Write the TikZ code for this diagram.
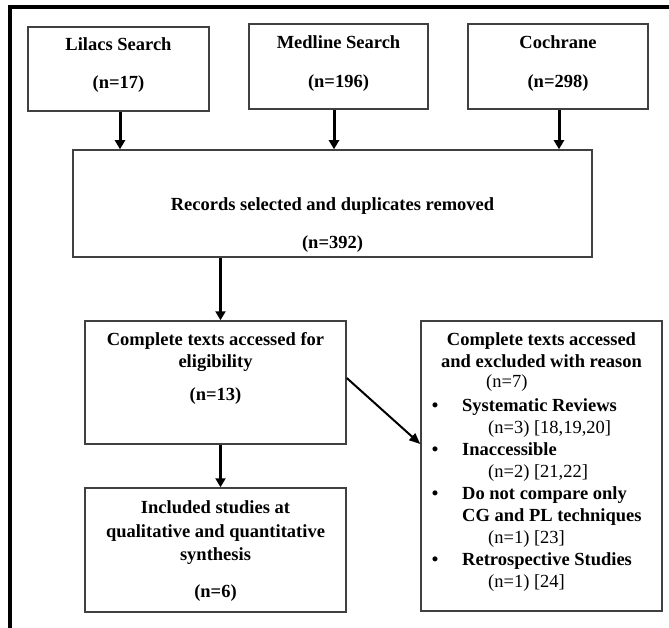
\documentclass[tikz,border=0pt]{standalone}
\usepackage{fontspec}
\setmainfont{Liberation Serif}
\usetikzlibrary{arrows.meta}
\begin{document}
\begin{tikzpicture}[x=1pt,y=-1pt,
  box/.style={draw=black!75, line width=1.5pt, inner sep=0pt, rectangle},
  bt/.style={font=\fontsize{18.5}{22}\selectfont\bfseries, inner sep=0pt, anchor=base},
  bl/.style={font=\fontsize{18.5}{22}\selectfont\bfseries, inner sep=0pt, anchor=base west},
  rl/.style={font=\fontsize{18.5}{22}\selectfont, inner sep=0pt, anchor=base west},
  bul/.style={font=\fontsize{18.5}{22}\selectfont\bfseries, inner sep=0pt, anchor=base},
  arr/.style={draw=black, line width=3pt, -{Triangle[width=10pt,length=9pt]}},
  darr/.style={draw=black, line width=2pt, -{Triangle[width=9pt,length=11pt]}},
]
\useasboundingbox (0,0) rectangle (669,628);
% frame (top and left edges)
\draw[line width=3.2pt] (10,628) -- (10,7) -- (669,7);

% boxes
\node[box, minimum width=181pt, minimum height=84pt] (lil) at (118.5,69) {};
\node[box, minimum width=179pt, minimum height=85pt] (med) at (338.5,66.5) {};
\node[box, minimum width=180pt, minimum height=85pt] (coc) at (558,66.5) {};
\node[box, minimum width=519pt, minimum height=107pt] (rec) at (332.5,203.5) {};
\node[box, minimum width=261pt, minimum height=123pt] (com) at (215.5,382.5) {};
\node[box, minimum width=241pt, minimum height=290pt] (exc) at (541.5,466) {};
\node[box, minimum width=261pt, minimum height=124pt] (inc) at (215.5,550) {};

% texts of the top boxes
\node[bt] (lilA) at (118.5,50.5) {Lilacs Search};
\node[bt] (lilB) at (118.5,88.5) {(n=17)};
\node[bt] (medA) at (338.5,48.5) {Medline Search};
\node[bt] (medB) at (338.5,87.5) {(n=196)};
\node[bt] (cocA) at (558,48.5) {Cochrane};
\node[bt] (cocB) at (558,87.5) {(n=298)};

% records
\node[bt] (recA) at (332.5,210.5) {Records selected and duplicates removed};
\node[bt] (recB) at (332.5,248.5) {(n=392)};

% complete texts
\node[bt] (comA) at (215.5,345.5) {Complete texts accessed for};
\node[bt] (comB) at (215.5,367.5) {eligibility};
\node[bt] (comC) at (215.5,400.5) {(n=13)};

% included
\node[bt] (incA) at (215.5,513.5) {Included studies at};
\node[bt] (incB) at (215.5,537.5) {qualitative and quantitative};
\node[bt] (incC) at (215.5,560.5) {synthesis};
\node[bt] (incD) at (215.5,597.5) {(n=6)};

% excluded
\node[bt] (excA) at (541.5,345.5) {Complete texts accessed};
\node[bt] (excB) at (541.5,367.5) {and excluded with reason};
\node[rl] (excC) at (486,387.5) {(n=7)};
\node[bul] (b1) at (435,411.5) {•};
\node[bl] (e1) at (462,411.5) {Systematic Reviews};
\node[rl] (e1n) at (488,433.5) {(n=3) [18,19,20]};
\node[bul] (b2) at (435,455.5) {•};
\node[bl] (e2) at (462,455.5) {Inaccessible};
\node[rl] (e2n) at (488,477.5) {(n=2) [21,22]};
\node[bul] (b3) at (435,499.5) {•};
\node[bl] (e3) at (462,499.5) {Do not compare only};
\node[bl] (e3b) at (462,521.5) {CG and PL techniques};
\node[rl] (e3n) at (488,543.5) {(n=1) [23]};
\node[bul] (b4) at (435,565.5) {•};
\node[bl] (e4) at (462,565.5) {Retrospective Studies};
\node[rl] (e4n) at (488,587.5) {(n=1) [24]};

% connectors
\draw[arr] ([xshift=1.5pt]lil.south) -- ([xshift=1.5pt]lil.south |- rec.north);
\draw[arr] ([xshift=-4.5pt]med.south) -- ([xshift=-4.5pt]med.south |- rec.north);
\draw[arr] ([xshift=1pt]coc.south) -- ([xshift=1pt]coc.south |- rec.north);
\draw[arr] ([xshift=5pt]com.north |- rec.south) -- ([xshift=5pt]com.north);
\draw[arr] ([xshift=5pt]com.south) -- ([xshift=5pt]inc.north);
\draw[darr] ([yshift=4.5pt]com.east) -- ([yshift=22pt]exc.west);
\end{tikzpicture}
\end{document}
